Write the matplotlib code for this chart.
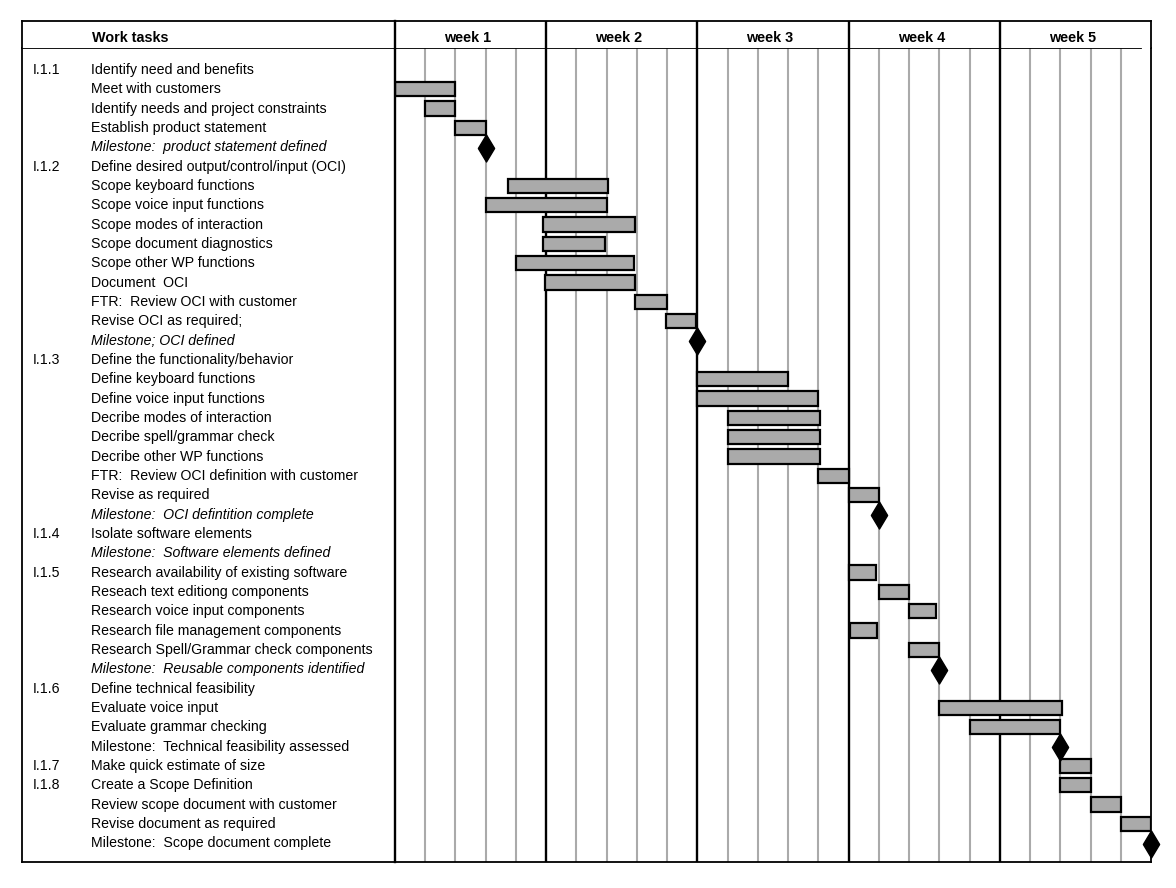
import numpy as np
import matplotlib
matplotlib.use('Agg')
import matplotlib.pyplot as plt

plt.rcParams['font.family'] = ['Liberation Sans', 'DejaVu Sans']

# task table (one entry per row)
task_ids = ['I.1.1', '', '', '', '',
            'I.1.2', '', '', '', '', '', '', '', '', '',
            'I.1.3', '', '', '', '', '', '', '', '',
            'I.1.4', '',
            'I.1.5', '', '', '', '', '',
            'I.1.6', '', '', '',
            'I.1.7',
            'I.1.8', '', '', '']
task_names = [
    'Identify need and benefits',
    'Meet with customers',
    'Identify needs and project constraints',
    'Establish product statement',
    'Milestone:  product statement defined',
    'Define desired output/control/input (OCI)',
    'Scope keyboard functions',
    'Scope voice input functions',
    'Scope modes of interaction',
    'Scope document diagnostics',
    'Scope other WP functions',
    'Document  OCI',
    'FTR:  Review OCI with customer',
    'Revise OCI as required;',
    'Milestone; OCI defined',
    'Define the functionality/behavior',
    'Define keyboard functions',
    'Define voice input functions',
    'Decribe modes of interaction',
    'Decribe spell/grammar check',
    'Decribe other WP functions',
    'FTR:  Review OCI definition with customer',
    'Revise as required',
    'Milestone:  OCI defintition complete',
    'Isolate software elements',
    'Milestone:  Software elements defined',
    'Research availability of existing software',
    'Reseach text editiong components',
    'Research voice input components',
    'Research file management components',
    'Research Spell/Grammar check components',
    'Milestone:  Reusable components identified',
    'Define technical feasibility',
    'Evaluate voice input',
    'Evaluate grammar checking',
    'Milestone:  Technical feasibility assessed',
    'Make quick estimate of size',
    'Create a Scope Definition',
    'Review scope document with customer',
    'Revise document as required',
    'Milestone:  Scope document complete',
]
italic_rows = [4, 14, 23, 25, 31]

# bars in working days from the start (5 days a week)
nan = np.nan
bar_start = [nan, 0, 1, 2, nan,
             nan, 3.75, 3, 4.9, 4.9, 4, 4.95, 7.95, 8.95, nan,
             nan, 10, 10, 11, 11, 11, 14, 15, nan,
             nan, nan,
             15, 16, 17, 15.05, 17, nan,
             nan, 18, 19, nan,
             22,
             22, 23, 24, nan]
bar_end = [nan, 2, 2, 3, nan,
           nan, 7.05, 7, 7.95, 6.95, 7.9, 7.95, 9, 9.95, nan,
           nan, 13, 14, 14.05, 14.05, 14.05, 15, 16, nan,
           nan, nan,
           15.9, 17, 17.9, 15.95, 18, nan,
           nan, 22.05, 22, nan,
           23,
           23, 24, 25, nan]
milestone_day = [nan, nan, nan, nan, 3,
                 nan, nan, nan, nan, nan, nan, nan, nan, nan, 10,
                 nan, nan, nan, nan, nan, nan, nan, nan, 16,
                 nan, nan,
                 nan, nan, nan, nan, nan, 18,
                 nan, nan, nan, 22,
                 nan,
                 nan, nan, nan, 25]

weeks = ['week 1', 'week 2', 'week 3', 'week 4', 'week 5']
days_per_week = 5

W, H = 1176, 888
fig = plt.figure(figsize=(W / 100, H / 100), dpi=100)


def px_axes(x0, y0, x1, y1):
    return fig.add_axes([x0 / W, 1 - y1 / H, (x1 - x0) / W, (y1 - y0) / H])


LEFT, SPLIT, RIGHT = 22, 395, 1151
TOP, HEAD, BOTTOM = 21, 48, 862
ROW0, STEP = 69, 19.33
y_top = (HEAD - ROW0) / STEP
y_bot = (BOTTOM - ROW0) / STEP
n_days = days_per_week * len(weeks)
rows = np.arange(len(task_names))

frame_lw = 1.3
week_lw = 1.7

# ---- task list
ax_l = px_axes(LEFT, HEAD, SPLIT, BOTTOM)
ax_l.set_xlim(LEFT, SPLIT)
ax_l.set_ylim(y_bot, y_top)
ax_l.set_xticks([])
ax_l.set_yticks([])
for s in ['left', 'bottom', 'top']:
    ax_l.spines[s].set_linewidth(frame_lw)
ax_l.spines['right'].set_visible(False)
for r, tid, name in zip(rows, task_ids, task_names):
    style = 'italic' if r in italic_rows else 'normal'
    if tid:
        ax_l.text(33, r + 0.05, tid, fontsize=10.2, va='center', ha='left')
    ax_l.text(91, r + 0.05, name, fontsize=10.2, va='center', ha='left', style=style)

# ---- gantt body
ax = px_axes(SPLIT, HEAD, RIGHT, BOTTOM)
ax.set_xlim(0, n_days)
ax.set_ylim(y_bot, y_top)
ax.set_xticks([])
ax.set_yticks([])
ax.spines['top'].set_visible(False)
ax.spines['left'].set_linewidth(week_lw)
ax.spines['bottom'].set_linewidth(frame_lw)
ax.spines['right'].set_linewidth(frame_lw)
for d in range(1, n_days):
    if d % days_per_week:
        ax.axvline(d, color='#aaaaaa', lw=1.5, zorder=0)
    else:
        ax.axvline(d, color='black', lw=week_lw, zorder=0)
# header underline stops a little short of the right border
ax.axhline(y_top, xmin=0, xmax=0.987, color='black', lw=frame_lw, clip_on=False)

bs = np.array(bar_start)
be = np.array(bar_end)
has_bar = ~np.isnan(bs)
ax.barh(rows[has_bar] + 0.05, (be - bs)[has_bar], left=bs[has_bar], height=0.74,
        color='#aaaaaa', edgecolor='black', linewidth=1.6, zorder=2)

md = np.array(milestone_day)
has_ms = ~np.isnan(md)
diamond = [(0, 1), (0.6, 0), (0, -1), (-0.6, 0), (0, 1)]
ax.plot(md[has_ms], rows[has_ms] + 0.08, linestyle='none', marker=diamond,
        markersize=19.5, color='black', zorder=3, clip_on=False)

# ---- header
ax_hl = px_axes(LEFT, TOP, SPLIT, HEAD)
ax_hl.set_xticks([])
ax_hl.set_yticks([])
ax_hl.spines['bottom'].set_visible(False)
ax_hl.spines['right'].set_visible(False)
for s in ['left', 'top']:
    ax_hl.spines[s].set_linewidth(frame_lw)
ax_hl.text(0.29, 0.38, 'Work tasks', transform=ax_hl.transAxes, fontsize=10.4,
           fontweight='bold', ha='center', va='center')

ax_hr = px_axes(SPLIT, TOP, RIGHT, HEAD)
ax_hr.set_xlim(0, n_days)
ax_hr.set_ylim(0, 1)
ax_hr.set_xticks([])
ax_hr.set_yticks([])
ax_hr.spines['bottom'].set_visible(False)
ax_hr.spines['left'].set_linewidth(week_lw)
ax_hr.spines['top'].set_linewidth(frame_lw)
ax_hr.spines['right'].set_linewidth(frame_lw)
for k, w in enumerate(weeks):
    if k:
        ax_hr.axvline(k * days_per_week, color='black', lw=week_lw)
    ax_hr.text(k * days_per_week + days_per_week / 2 - 0.1, 0.38, w, fontsize=10.4,
               fontweight='bold', ha='center', va='center')

fig.savefig('out.png', dpi=100)
